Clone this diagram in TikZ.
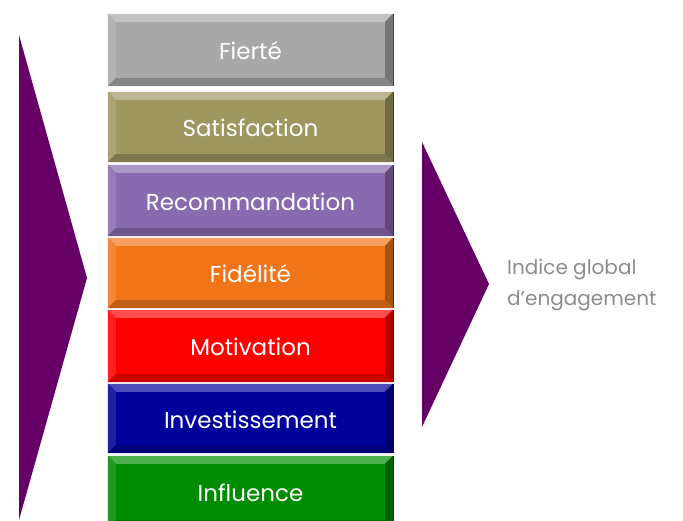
\documentclass[tikz,border=0pt]{standalone}
\usepackage{fontspec}
\setmainfont{Poppins}
\usepackage{tikz}
\usetikzlibrary{positioning,calc}

\definecolor{arrowpurple}{RGB}{102,0,102}
\definecolor{fiertecol}{RGB}{168,168,168}
\definecolor{satiscol}{RGB}{160,150,96}
\definecolor{recocol}{RGB}{138,106,175}
\definecolor{fidelcol}{RGB}{240,117,24}
\definecolor{motivcol}{RGB}{255,0,0}
\definecolor{investcol}{RGB}{0,0,154}
\definecolor{influcol}{RGB}{0,140,0}
\definecolor{labelgray}{RGB}{140,140,140}

\tikzset{
  levelbox/.style={rectangle, minimum width=285pt, minimum height=#1, inner sep=0pt},
  leveltext/.style={font=\fontsize{23}{28}\selectfont, text=white, inner sep=0pt, anchor=base},
  sidetext/.style={font=\fontsize{20}{31}\selectfont, text=labelgray, align=left, inner sep=0pt}
}

% bevelled edges around a level box
\newcommand{\bevel}[2]{%
  \fill[#2!70!white] (#1.north west) -- (#1.north east) -- ([shift={(-8,-8)}]#1.north east) -- ([shift={(8,-8)}]#1.north west) -- cycle;
  \fill[#2!88!white] (#1.north west) -- ([shift={(8,-8)}]#1.north west) -- ([shift={(8,8)}]#1.south west) -- (#1.south west) -- cycle;
  \fill[#2!70!black] (#1.north east) -- ([shift={(-8,-8)}]#1.north east) -- ([shift={(-8,8)}]#1.south east) -- (#1.south east) -- cycle;
  \fill[#2!80!black] (#1.south west) -- ([shift={(8,8)}]#1.south west) -- ([shift={(-8,8)}]#1.south east) -- (#1.south east) -- cycle;
  \draw[#2!40!black, line width=1.2pt] (#1.north east) -- (#1.south east);
}

\begin{document}
\begin{tikzpicture}[x=1pt, y=1pt]
  \useasboundingbox (0,0) rectangle (683,521);
  \clip (0,0) rectangle (683,521);

  % Left arrow
  \fill[arrowpurple] (19,486) -- (87,243) -- (19,1) -- cycle;

  % Stack of levels
  \foreach \nm/\yc/\ht/\col/\txt in {
      fierte/471/72/fiertecol/Fierté,
      satis/394/70/satiscol/Satisfaction,
      reco/320.5/71/recocol/Recommandation,
      fidel/248/70/fidelcol/Fidélité,
      motiv/175/72/motivcol/Motivation,
      invest/102.5/69/investcol/Investissement,
      influ/29/72/influcol/Influence} {
    \node[levelbox=\ht pt, fill=\col] (\nm) at (250.5,\yc) {};
    \bevel{\nm}{\col}
    \node[leveltext] at ([yshift=-10pt]\nm.center) {\txt};
  }

  % Right arrow and label
  \fill[arrowpurple] (422,379) -- (489,237) -- (422,94) -- cycle;
  \node[sidetext, anchor=west] (indice) at (507,236) {Indice global\\d’engagement};
\end{tikzpicture}
\end{document}
